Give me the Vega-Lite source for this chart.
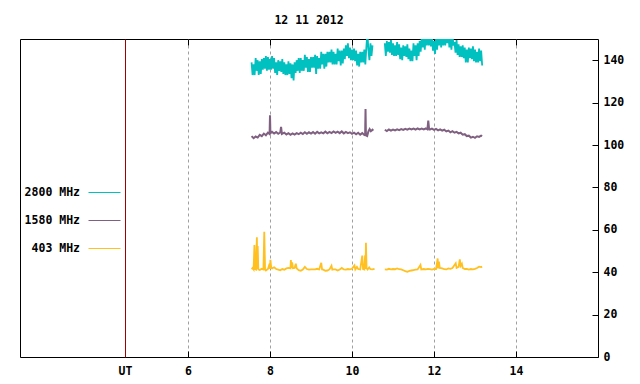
{
"$schema": "https://vega.github.io/schema/vega-lite/v6.json",
"width": 578,
"height": 318,
"autosize": "none",
"padding": {"left": 20, "top": 39, "right": 42, "bottom": 27},
"background": "white",
"title": {"text": "12 11 2012", "font": "DejaVu Sans Mono", "fontSize": 11.5, "fontWeight": "bold", "color": "black", "anchor": "middle", "offset": 12},
"config": {
  "view": {"stroke": "black", "strokeWidth": 1},
  "axis": {"labelFont": "DejaVu Sans Mono", "labelFontSize": 11.5, "labelFontWeight": "bold", "labelColor": "black", "title": null}
},
"datasets": {
"s2800": [
{"ut":7.55,"flux":139,"part":1},{"ut":7.575,"flux":133,"part":1},{"ut":7.6,"flux":138,"part":1},{"ut":7.625,"flux":133,"part":1},
{"ut":7.65,"flux":141,"part":1},{"ut":7.675,"flux":135,"part":1},{"ut":7.7,"flux":140,"part":1},{"ut":7.725,"flux":133,"part":1},
{"ut":7.75,"flux":139.5,"part":1},{"ut":7.775,"flux":133.5,"part":1},{"ut":7.8,"flux":140.5,"part":1},{"ut":7.825,"flux":135.5,"part":1},
{"ut":7.85,"flux":141,"part":1},{"ut":7.875,"flux":136,"part":1},{"ut":7.9,"flux":142,"part":1},{"ut":7.925,"flux":135,"part":1},
{"ut":7.95,"flux":141.5,"part":1},{"ut":7.975,"flux":135.5,"part":1},{"ut":8.0,"flux":140.5,"part":1},{"ut":8.025,"flux":135.5,"part":1},
{"ut":8.05,"flux":142,"part":1},{"ut":8.075,"flux":136,"part":1},{"ut":8.1,"flux":141,"part":1},{"ut":8.125,"flux":134,"part":1},
{"ut":8.15,"flux":139,"part":1},{"ut":8.175,"flux":133,"part":1},{"ut":8.2,"flux":140,"part":1},{"ut":8.225,"flux":135,"part":1},
{"ut":8.25,"flux":139.5,"part":1},{"ut":8.275,"flux":134.5,"part":1},{"ut":8.3,"flux":140.5,"part":1},{"ut":8.325,"flux":133.5,"part":1},
{"ut":8.35,"flux":139,"part":1},{"ut":8.375,"flux":133,"part":1},{"ut":8.4,"flux":138,"part":1},{"ut":8.425,"flux":133,"part":1},
{"ut":8.45,"flux":139.5,"part":1},{"ut":8.475,"flux":133.5,"part":1},{"ut":8.5,"flux":138.5,"part":1},{"ut":8.525,"flux":131.5,"part":1},
{"ut":8.55,"flux":138,"part":1},{"ut":8.575,"flux":130.5,"part":1},{"ut":8.6,"flux":139,"part":1},{"ut":8.625,"flux":134,"part":1},
{"ut":8.65,"flux":140,"part":1},{"ut":8.675,"flux":135,"part":1},{"ut":8.7,"flux":141,"part":1},{"ut":8.725,"flux":134,"part":1},
{"ut":8.75,"flux":141,"part":1},{"ut":8.775,"flux":135,"part":1},{"ut":8.8,"flux":140,"part":1},{"ut":8.825,"flux":135,"part":1},
{"ut":8.85,"flux":142.5,"part":1},{"ut":8.875,"flux":136.5,"part":1},{"ut":8.9,"flux":141.5,"part":1},{"ut":8.925,"flux":134.5,"part":1},
{"ut":8.95,"flux":140.5,"part":1},{"ut":8.975,"flux":134.5,"part":1},{"ut":9.0,"flux":141.5,"part":1},{"ut":9.025,"flux":136.5,"part":1},
{"ut":9.05,"flux":141.5,"part":1},{"ut":9.075,"flux":136.5,"part":1},{"ut":9.1,"flux":142.5,"part":1},{"ut":9.125,"flux":133.5,"part":1},
{"ut":9.15,"flux":142,"part":1},{"ut":9.175,"flux":136,"part":1},{"ut":9.2,"flux":141,"part":1},{"ut":9.225,"flux":136,"part":1},
{"ut":9.25,"flux":144,"part":1},{"ut":9.275,"flux":138,"part":1},{"ut":9.3,"flux":143,"part":1},{"ut":9.325,"flux":136,"part":1},
{"ut":9.35,"flux":143,"part":1},{"ut":9.375,"flux":137,"part":1},{"ut":9.4,"flux":144,"part":1},{"ut":9.425,"flux":139,"part":1},
{"ut":9.45,"flux":144,"part":1},{"ut":9.475,"flux":139,"part":1},{"ut":9.5,"flux":145,"part":1},{"ut":9.525,"flux":138,"part":1},
{"ut":9.55,"flux":144,"part":1},{"ut":9.575,"flux":138,"part":1},{"ut":9.6,"flux":143,"part":1},{"ut":9.625,"flux":138,"part":1},
{"ut":9.65,"flux":145.5,"part":1},{"ut":9.675,"flux":139.5,"part":1},{"ut":9.7,"flux":144.5,"part":1},{"ut":9.725,"flux":137.5,"part":1},
{"ut":9.75,"flux":144.5,"part":1},{"ut":9.775,"flux":138.5,"part":1},{"ut":9.8,"flux":145.5,"part":1},{"ut":9.825,"flux":140.5,"part":1},
{"ut":9.85,"flux":147,"part":1},{"ut":9.875,"flux":142,"part":1},{"ut":9.9,"flux":148,"part":1},{"ut":9.925,"flux":141,"part":1},
{"ut":9.95,"flux":146,"part":1},{"ut":9.975,"flux":140,"part":1},{"ut":10.0,"flux":145,"part":1},{"ut":10.025,"flux":140,"part":1},
{"ut":10.05,"flux":145.5,"part":1},{"ut":10.075,"flux":139.5,"part":1},{"ut":10.1,"flux":144.5,"part":1},{"ut":10.125,"flux":137.5,"part":1},
{"ut":10.15,"flux":143,"part":1},{"ut":10.175,"flux":137,"part":1},{"ut":10.2,"flux":144,"part":1},{"ut":10.225,"flux":139,"part":1},
{"ut":10.25,"flux":144,"part":1},{"ut":10.275,"flux":139,"part":1},{"ut":10.3,"flux":145,"part":1},{"ut":10.325,"flux":138,"part":1},
{"ut":10.35,"flux":146,"part":1},{"ut":10.375,"flux":153,"part":1},{"ut":10.4,"flux":145,"part":1},{"ut":10.425,"flux":140,"part":1},
{"ut":10.45,"flux":148,"part":1},{"ut":10.475,"flux":142,"part":1},{"ut":10.5,"flux":147,"part":1},
{"ut":10.8,"flux":148,"part":2},{"ut":10.825,"flux":142,"part":2},{"ut":10.85,"flux":149,"part":2},{"ut":10.875,"flux":144,"part":2},
{"ut":10.9,"flux":148.5,"part":2},{"ut":10.925,"flux":143.5,"part":2},{"ut":10.95,"flux":149.5,"part":2},{"ut":10.975,"flux":142.5,"part":2},
{"ut":11.0,"flux":148,"part":2},{"ut":11.025,"flux":142,"part":2},{"ut":11.05,"flux":147,"part":2},{"ut":11.075,"flux":142,"part":2},
{"ut":11.1,"flux":148.5,"part":2},{"ut":11.125,"flux":142.5,"part":2},{"ut":11.15,"flux":147.5,"part":2},{"ut":11.175,"flux":140.5,"part":2},
{"ut":11.2,"flux":146,"part":2},{"ut":11.225,"flux":140,"part":2},{"ut":11.25,"flux":147,"part":2},{"ut":11.275,"flux":142,"part":2},
{"ut":11.3,"flux":146.5,"part":2},{"ut":11.325,"flux":141.5,"part":2},{"ut":11.35,"flux":147.5,"part":2},{"ut":11.375,"flux":140.5,"part":2},
{"ut":11.4,"flux":145.5,"part":2},{"ut":11.425,"flux":139.5,"part":2},{"ut":11.45,"flux":144.5,"part":2},{"ut":11.475,"flux":139.5,"part":2},
{"ut":11.5,"flux":148,"part":2},{"ut":11.525,"flux":142,"part":2},{"ut":11.55,"flux":147,"part":2},{"ut":11.575,"flux":140,"part":2},
{"ut":11.6,"flux":148,"part":2},{"ut":11.625,"flux":142,"part":2},{"ut":11.65,"flux":149,"part":2},{"ut":11.675,"flux":144,"part":2},
{"ut":11.7,"flux":151,"part":2},{"ut":11.725,"flux":146,"part":2},{"ut":11.75,"flux":152,"part":2},{"ut":11.775,"flux":145,"part":2},
{"ut":11.8,"flux":153,"part":2},{"ut":11.825,"flux":147,"part":2},{"ut":11.85,"flux":152,"part":2},{"ut":11.875,"flux":147,"part":2},
{"ut":11.9,"flux":152.5,"part":2},{"ut":11.925,"flux":146.5,"part":2},{"ut":11.95,"flux":151.5,"part":2},{"ut":11.975,"flux":144.5,"part":2},
{"ut":12.0,"flux":149,"part":2},{"ut":12.025,"flux":143,"part":2},{"ut":12.05,"flux":150,"part":2},{"ut":12.075,"flux":145,"part":2},
{"ut":12.1,"flux":152,"part":2},{"ut":12.125,"flux":147,"part":2},{"ut":12.15,"flux":153,"part":2},{"ut":12.175,"flux":146,"part":2},
{"ut":12.2,"flux":153,"part":2},{"ut":12.225,"flux":147,"part":2},{"ut":12.25,"flux":152,"part":2},{"ut":12.275,"flux":147,"part":2},
{"ut":12.3,"flux":154,"part":2},{"ut":12.325,"flux":148,"part":2},{"ut":12.35,"flux":153,"part":2},{"ut":12.375,"flux":146,"part":2},
{"ut":12.4,"flux":151,"part":2},{"ut":12.425,"flux":145,"part":2},{"ut":12.45,"flux":152,"part":2},{"ut":12.475,"flux":147,"part":2},
{"ut":12.5,"flux":148.5,"part":2},{"ut":12.525,"flux":143.5,"part":2},{"ut":12.55,"flux":149.5,"part":2},{"ut":12.575,"flux":142.5,"part":2},
{"ut":12.6,"flux":147.5,"part":2},{"ut":12.625,"flux":141.5,"part":2},{"ut":12.65,"flux":146.5,"part":2},{"ut":12.675,"flux":141.5,"part":2},
{"ut":12.7,"flux":147,"part":2},{"ut":12.725,"flux":141,"part":2},{"ut":12.75,"flux":146,"part":2},{"ut":12.775,"flux":139,"part":2},
{"ut":12.8,"flux":145,"part":2},{"ut":12.825,"flux":139,"part":2},{"ut":12.85,"flux":146,"part":2},{"ut":12.875,"flux":141,"part":2},
{"ut":12.9,"flux":145.5,"part":2},{"ut":12.925,"flux":140.5,"part":2},{"ut":12.95,"flux":146.5,"part":2},{"ut":12.975,"flux":139.5,"part":2},
{"ut":13.0,"flux":145,"part":2},{"ut":13.025,"flux":139,"part":2},{"ut":13.05,"flux":144,"part":2},{"ut":13.075,"flux":139,"part":2},
{"ut":13.1,"flux":145.5,"part":2},{"ut":13.125,"flux":139.5,"part":2},{"ut":13.15,"flux":144.5,"part":2},{"ut":13.175,"flux":137.5,"part":2}
],
"s1580": [
{"ut":7.55,"flux":104.2,"part":1},{"ut":7.6,"flux":103.2,"part":1},{"ut":7.65,"flux":104,"part":1},{"ut":7.7,"flux":103.5,"part":1},
{"ut":7.75,"flux":104.8,"part":1},{"ut":7.8,"flux":104.2,"part":1},{"ut":7.85,"flux":105.4,"part":1},{"ut":7.9,"flux":104.6,"part":1},
{"ut":7.95,"flux":105.8,"part":1},{"ut":7.99,"flux":105.2,"part":1},{"ut":8.0,"flux":114,"part":1},{"ut":8.01,"flux":105.5,"part":1},
{"ut":8.05,"flux":106.2,"part":1},{"ut":8.1,"flux":105.4,"part":1},{"ut":8.15,"flux":106.1,"part":1},{"ut":8.2,"flux":105.3,"part":1},
{"ut":8.25,"flux":105.9,"part":1},{"ut":8.27,"flux":108.5,"part":1},{"ut":8.29,"flux":105.2,"part":1},{"ut":8.35,"flux":105.8,"part":1},
{"ut":8.4,"flux":105,"part":1},{"ut":8.45,"flux":105.6,"part":1},{"ut":8.5,"flux":104.8,"part":1},{"ut":8.55,"flux":105.5,"part":1},
{"ut":8.6,"flux":104.9,"part":1},{"ut":8.65,"flux":105.6,"part":1},{"ut":8.7,"flux":105.1,"part":1},{"ut":8.75,"flux":105.8,"part":1},
{"ut":8.8,"flux":105.2,"part":1},{"ut":8.85,"flux":106,"part":1},{"ut":8.9,"flux":105.3,"part":1},{"ut":8.95,"flux":106,"part":1},
{"ut":9.0,"flux":105.4,"part":1},{"ut":9.05,"flux":106.1,"part":1},{"ut":9.1,"flux":105.3,"part":1},{"ut":9.15,"flux":106.2,"part":1},
{"ut":9.2,"flux":105.5,"part":1},{"ut":9.25,"flux":106,"part":1},{"ut":9.3,"flux":105.5,"part":1},{"ut":9.35,"flux":106.3,"part":1},
{"ut":9.4,"flux":105.5,"part":1},{"ut":9.45,"flux":106.2,"part":1},{"ut":9.5,"flux":105.6,"part":1},{"ut":9.55,"flux":106.4,"part":1},
{"ut":9.6,"flux":105.7,"part":1},{"ut":9.65,"flux":106.3,"part":1},{"ut":9.7,"flux":105.6,"part":1},{"ut":9.75,"flux":106.4,"part":1},
{"ut":9.8,"flux":105.5,"part":1},{"ut":9.85,"flux":106.2,"part":1},{"ut":9.9,"flux":105.6,"part":1},{"ut":9.95,"flux":106,"part":1},
{"ut":10.0,"flux":105.3,"part":1},{"ut":10.05,"flux":105.8,"part":1},{"ut":10.1,"flux":105.1,"part":1},{"ut":10.15,"flux":105.8,"part":1},
{"ut":10.2,"flux":104.9,"part":1},{"ut":10.25,"flux":105.6,"part":1},{"ut":10.3,"flux":104.7,"part":1},{"ut":10.32,"flux":105,"part":1},
{"ut":10.33,"flux":117,"part":1},{"ut":10.34,"flux":104.5,"part":1},{"ut":10.37,"flux":104.2,"part":1},{"ut":10.4,"flux":106.4,"part":1},
{"ut":10.43,"flux":107.5,"part":1},{"ut":10.46,"flux":106.5,"part":1},{"ut":10.5,"flux":107.2,"part":1},{"ut":10.52,"flux":106.8,"part":1},
{"ut":10.8,"flux":107.2,"part":2},{"ut":10.85,"flux":106.6,"part":2},{"ut":10.9,"flux":107.3,"part":2},{"ut":10.95,"flux":106.8,"part":2},
{"ut":11.0,"flux":107.3,"part":2},{"ut":11.05,"flux":106.9,"part":2},{"ut":11.1,"flux":107.4,"part":2},{"ut":11.15,"flux":107,"part":2},
{"ut":11.2,"flux":107.5,"part":2},{"ut":11.25,"flux":107.1,"part":2},{"ut":11.3,"flux":107.6,"part":2},{"ut":11.35,"flux":107.2,"part":2},
{"ut":11.4,"flux":107.7,"part":2},{"ut":11.45,"flux":107.3,"part":2},{"ut":11.5,"flux":107.7,"part":2},{"ut":11.55,"flux":107.3,"part":2},
{"ut":11.6,"flux":107.8,"part":2},{"ut":11.65,"flux":107.4,"part":2},{"ut":11.7,"flux":107.8,"part":2},{"ut":11.75,"flux":107.4,"part":2},
{"ut":11.8,"flux":107.8,"part":2},{"ut":11.84,"flux":107.4,"part":2},{"ut":11.86,"flux":111.5,"part":2},{"ut":11.88,"flux":107.6,"part":2},
{"ut":11.9,"flux":107.3,"part":2},{"ut":11.95,"flux":107.7,"part":2},{"ut":12.0,"flux":107.1,"part":2},{"ut":12.05,"flux":107.6,"part":2},
{"ut":12.1,"flux":106.9,"part":2},{"ut":12.15,"flux":107.4,"part":2},{"ut":12.2,"flux":106.8,"part":2},{"ut":12.25,"flux":107.2,"part":2},
{"ut":12.3,"flux":106.4,"part":2},{"ut":12.35,"flux":106.8,"part":2},{"ut":12.4,"flux":106,"part":2},{"ut":12.45,"flux":106.5,"part":2},
{"ut":12.5,"flux":105.8,"part":2},{"ut":12.55,"flux":106.2,"part":2},{"ut":12.6,"flux":105.5,"part":2},{"ut":12.65,"flux":105.8,"part":2},
{"ut":12.7,"flux":104.9,"part":2},{"ut":12.75,"flux":105.1,"part":2},{"ut":12.8,"flux":104.2,"part":2},{"ut":12.85,"flux":104.4,"part":2},
{"ut":12.9,"flux":103.5,"part":2},{"ut":12.95,"flux":103.9,"part":2},{"ut":13.0,"flux":103.4,"part":2},{"ut":13.05,"flux":104.1,"part":2},
{"ut":13.1,"flux":103.8,"part":2},{"ut":13.15,"flux":104.4,"part":2},{"ut":13.175,"flux":104.2,"part":2}
],
"s403": [
{"ut":7.55,"flux":41.5,"part":1},{"ut":7.575,"flux":42,"part":1},{"ut":7.6,"flux":41.3,"part":1},{"ut":7.62,"flux":52.8,"part":1},
{"ut":7.64,"flux":41.4,"part":1},{"ut":7.66,"flux":41.2,"part":1},{"ut":7.68,"flux":56.5,"part":1},{"ut":7.69,"flux":41.5,"part":1},
{"ut":7.7,"flux":52.4,"part":1},{"ut":7.715,"flux":41.3,"part":1},{"ut":7.75,"flux":41.0,"part":1},{"ut":7.8,"flux":41.6,"part":1},
{"ut":7.84,"flux":41.3,"part":1},{"ut":7.86,"flux":59.1,"part":1},{"ut":7.88,"flux":41.3,"part":1},{"ut":7.9,"flux":40.8,"part":1},
{"ut":7.95,"flux":41.5,"part":1},{"ut":7.99,"flux":44,"part":1},{"ut":8.0,"flux":41.5,"part":1},{"ut":8.01,"flux":45.8,"part":1},
{"ut":8.03,"flux":42,"part":1},{"ut":8.05,"flux":41.8,"part":1},{"ut":8.1,"flux":42.3,"part":1},{"ut":8.15,"flux":41.5,"part":1},
{"ut":8.2,"flux":41.2,"part":1},{"ut":8.25,"flux":40.9,"part":1},{"ut":8.3,"flux":41.5,"part":1},{"ut":8.35,"flux":41.2,"part":1},
{"ut":8.4,"flux":41.8,"part":1},{"ut":8.45,"flux":42,"part":1},{"ut":8.5,"flux":41.8,"part":1},{"ut":8.51,"flux":45.7,"part":1},
{"ut":8.52,"flux":42,"part":1},{"ut":8.54,"flux":44.6,"part":1},{"ut":8.56,"flux":41.9,"part":1},{"ut":8.6,"flux":42,"part":1},
{"ut":8.63,"flux":44,"part":1},{"ut":8.65,"flux":41.8,"part":1},{"ut":8.7,"flux":41,"part":1},{"ut":8.75,"flux":40.7,"part":1},
{"ut":8.8,"flux":41.3,"part":1},{"ut":8.85,"flux":42.5,"part":1},{"ut":8.9,"flux":41.5,"part":1},{"ut":8.95,"flux":41.2,"part":1},
{"ut":9.0,"flux":41.3,"part":1},{"ut":9.05,"flux":41.3,"part":1},{"ut":9.1,"flux":41.3,"part":1},{"ut":9.15,"flux":41.6,"part":1},
{"ut":9.2,"flux":41.3,"part":1},{"ut":9.25,"flux":44.4,"part":1},{"ut":9.27,"flux":41.3,"part":1},{"ut":9.3,"flux":41.2,"part":1},
{"ut":9.35,"flux":40.7,"part":1},{"ut":9.4,"flux":40.8,"part":1},{"ut":9.45,"flux":41.3,"part":1},{"ut":9.5,"flux":43,"part":1},
{"ut":9.52,"flux":41.2,"part":1},{"ut":9.55,"flux":41.3,"part":1},{"ut":9.6,"flux":41.3,"part":1},{"ut":9.65,"flux":40.8,"part":1},
{"ut":9.7,"flux":41.3,"part":1},{"ut":9.75,"flux":42,"part":1},{"ut":9.8,"flux":41.3,"part":1},{"ut":9.85,"flux":41.2,"part":1},
{"ut":9.9,"flux":41.5,"part":1},{"ut":9.95,"flux":41.3,"part":1},{"ut":10.0,"flux":41.6,"part":1},{"ut":10.06,"flux":43.2,"part":1},
{"ut":10.08,"flux":41.3,"part":1},{"ut":10.12,"flux":42.5,"part":1},{"ut":10.15,"flux":41.5,"part":1},{"ut":10.2,"flux":41.3,"part":1},
{"ut":10.25,"flux":47.8,"part":1},{"ut":10.27,"flux":41.5,"part":1},{"ut":10.3,"flux":41.3,"part":1},{"ut":10.32,"flux":48,"part":1},
{"ut":10.33,"flux":41.5,"part":1},{"ut":10.34,"flux":53.9,"part":1},{"ut":10.355,"flux":42,"part":1},{"ut":10.38,"flux":41.3,"part":1},
{"ut":10.42,"flux":42.2,"part":1},{"ut":10.45,"flux":41.4,"part":1},{"ut":10.5,"flux":41.3,"part":1},{"ut":10.55,"flux":41.6,"part":1},
{"ut":10.8,"flux":41.3,"part":2},{"ut":10.85,"flux":41.2,"part":2},{"ut":10.9,"flux":41.6,"part":2},{"ut":10.95,"flux":41.3,"part":2},
{"ut":11.0,"flux":41.5,"part":2},{"ut":11.05,"flux":41.4,"part":2},{"ut":11.1,"flux":41.8,"part":2},{"ut":11.15,"flux":41.4,"part":2},
{"ut":11.2,"flux":41.3,"part":2},{"ut":11.25,"flux":40.9,"part":2},{"ut":11.3,"flux":40.5,"part":2},{"ut":11.35,"flux":40.2,"part":2},
{"ut":11.4,"flux":40.6,"part":2},{"ut":11.45,"flux":40.8,"part":2},{"ut":11.5,"flux":41,"part":2},{"ut":11.55,"flux":41.2,"part":2},
{"ut":11.6,"flux":41.3,"part":2},{"ut":11.67,"flux":43.4,"part":2},{"ut":11.69,"flux":41.3,"part":2},{"ut":11.75,"flux":41.5,"part":2},
{"ut":11.8,"flux":41.3,"part":2},{"ut":11.85,"flux":41.6,"part":2},{"ut":11.9,"flux":41.4,"part":2},{"ut":11.95,"flux":41.2,"part":2},
{"ut":12.0,"flux":41.6,"part":2},{"ut":12.05,"flux":41.5,"part":2},{"ut":12.09,"flux":46.5,"part":2},{"ut":12.1,"flux":41.8,"part":2},
{"ut":12.12,"flux":45,"part":2},{"ut":12.14,"flux":42,"part":2},{"ut":12.2,"flux":41.8,"part":2},{"ut":12.25,"flux":41.4,"part":2},
{"ut":12.3,"flux":41.3,"part":2},{"ut":12.35,"flux":41.8,"part":2},{"ut":12.4,"flux":41.6,"part":2},{"ut":12.45,"flux":42,"part":2},
{"ut":12.53,"flux":44.2,"part":2},{"ut":12.55,"flux":42,"part":2},{"ut":12.6,"flux":42.5,"part":2},{"ut":12.63,"flux":46,"part":2},
{"ut":12.65,"flux":43,"part":2},{"ut":12.68,"flux":44,"part":2},{"ut":12.7,"flux":42,"part":2},{"ut":12.75,"flux":41.5,"part":2},
{"ut":12.8,"flux":41.6,"part":2},{"ut":12.85,"flux":41.2,"part":2},{"ut":12.9,"flux":41.5,"part":2},{"ut":12.95,"flux":41.3,"part":2},
{"ut":13.0,"flux":41.6,"part":2},{"ut":13.05,"flux":42,"part":2},{"ut":13.1,"flux":42.6,"part":2},{"ut":13.15,"flux":42.4,"part":2},
{"ut":13.175,"flux":42.6,"part":2}
]
},
"resolve": {"axis": {"x": "independent", "y": "independent"}},
"layer": [
{
  "data": {"name": "s2800"},
  "mark": {"type": "line", "strokeWidth": 1.8, "clip": true, "interpolate": "linear"},
  "encoding": {
    "x": {"field": "ut", "type": "quantitative",
      "scale": {"domain": [1.9024, 16], "nice": false, "zero": false},
      "axis": {"orient": "bottom", "values": [4.463, 6, 8, 10, 12, 14], "format": "d",
        "labelExpr": "datum.value < 5 ? 'UT' : datum.label",
        "domain": false, "grid": true,
        "gridColor": {"condition": {"test": "datum.value < 5", "value": "#a00000"}, "value": "#a0a0a0"},
        "gridDash": {"condition": {"test": "datum.value < 5", "value": []}, "value": [3, 3]},
        "gridWidth": 1,
        "tickSize": -6,
        "tickColor": {"condition": {"test": "datum.value < 5", "value": "transparent"}, "value": "black"},
        "labelPadding": 14}},
    "y": {"field": "flux", "type": "quantitative",
      "scale": {"domain": [0, 150], "nice": false, "zero": false},
      "axis": {"orient": "right", "values": [0, 20, 40, 60, 80, 100, 120, 140], "domain": false, "grid": false,
        "tickSize": -6, "tickColor": "black", "labelPadding": 11}},
    "detail": {"field": "part"},
    "color": {"datum": "2800 MHz", "type": "nominal",
      "scale": {"domain": ["2800 MHz", "1580 MHz", "403 MHz"], "range": ["#00c0c0", "#806080", "#ffc020"]},
      "legend": {"orient": "none", "legendX": 4, "legendY": 137, "title": null,
        "symbolType": "stroke", "symbolSize": 1024, "symbolStrokeWidth": 1,
        "symbolOffset": 64, "labelOffset": -41, "labelAlign": "right",
        "labelFont": "DejaVu Sans Mono", "labelFontSize": 11.5, "labelFontWeight": "bold", "labelColor": "black",
        "rowPadding": 6}}
  }
},
{
  "data": {"name": "s1580"},
  "mark": {"type": "line", "strokeWidth": 2, "clip": true},
  "encoding": {
    "x": {"field": "ut", "type": "quantitative",
      "axis": {"orient": "top", "values": [4.463, 6, 8, 10, 12, 14], "labels": false, "domain": false, "grid": false,
        "tickSize": -6,
        "tickColor": {"condition": {"test": "datum.value < 5", "value": "transparent"}, "value": "black"}}},
    "y": {"field": "flux", "type": "quantitative", "axis": null},
    "detail": {"field": "part"},
    "color": {"datum": "1580 MHz", "type": "nominal"}
  }
},
{
  "data": {"name": "s403"},
  "mark": {"type": "line", "strokeWidth": 1.8, "clip": true},
  "encoding": {
    "x": {"field": "ut", "type": "quantitative", "axis": null},
    "y": {"field": "flux", "type": "quantitative", "axis": null},
    "detail": {"field": "part"},
    "color": {"datum": "403 MHz", "type": "nominal"}
  }
}
]
}
